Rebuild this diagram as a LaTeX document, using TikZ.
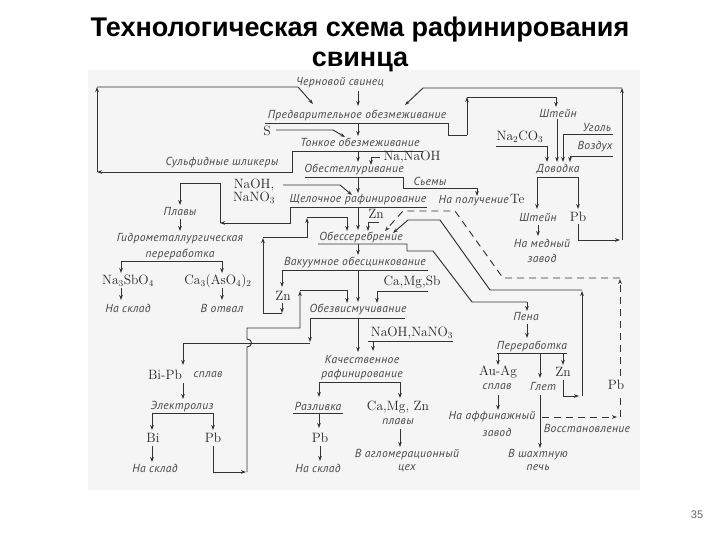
\documentclass[tikz,border=0pt]{standalone}
\usepackage{fontspec}
\usetikzlibrary{arrows.meta}
\newfontfamily\titlefont{Liberation Sans}
\newfontfamily\labfont[LetterSpace=3]{PT Sans}
\begin{document}
\begin{tikzpicture}[x=1pt,y=-1pt,
  ln/.style={draw=black!80, line width=0.95pt},
  dsh/.style={ln, dash pattern=on 7pt off 5pt},
  arr/.style={-{Stealth[length=5pt,width=3.6pt]}},
  lab/.style={font=\labfont\itshape\fontsize{11.6}{12}\selectfont, text=black!72, inner sep=0pt},
  chem/.style={font=\fontsize{13.5}{15}\selectfont, text=black!85, inner sep=0pt},
  ttl/.style={font=\titlefont\bfseries\fontsize{27}{30}\selectfont, inner sep=0pt}]
\useasboundingbox (0,0) rectangle (720,540);
\fill[black!4] (88,70) rectangle (640,490);
% title
\node[ttl] (t1) at (360,30) {Технологическая схема рафинирования};
\node[ttl] (t2) at (360,62) {свинца};
\node[font=\titlefont\fontsize{11}{12}\selectfont, text=black!60] (pg) at (697,515) {35};
% labels
\node[lab] (chern) at (340,83) {Черновой свинец};
\node[lab] (pred) at (357,115) {Предварительное обезмеживание};
\node[lab] (tonk) at (360,142) {Тонкое обезмеживание};
\node[lab] (sulf) at (222,163) {Сульфидные шликеры};
\node[chem] (S) at (267,131) {S};
\node[chem] (nanaoh) at (412,157) {Na,NaOH};
\node[lab] (obtel) at (354,169) {Обестеллуривание};
\node[lab] (siemy) at (430,181) {Сьемы};
\node[chem] (naoh1) at (254,185) {NaOH,};
\node[chem] (nano1) at (254,198) {NaNO$_3$};
\node[lab] (shel) at (358,200) {Щелочное рафинирование};
\node[lab, anchor=base east] (napol) at (509,204) {На получение};
\node[chem, anchor=base west] (te) at (510,204) {Te};
\node[chem] (zn1) at (376,214) {Zn};
\node[lab] (plavy1) at (180,212) {Плавы};
\node[lab] (gidro) at (180,239) {Гидрометаллургическая};
\node[lab] (perer1) at (180,254) {переработка};
\node[chem] (nasbo) at (128,281) {Na$_3$SbO$_4$};
\node[chem] (caaso) at (218,281) {Ca$_3$(AsO$_4$)$_2$};
\node[lab] (sklad1) at (128,308) {На склад};
\node[lab] (otval) at (222,308) {В отвал};
\node[lab] (obser) at (361,237) {Обессеребрение};
\node[lab] (vakuum) at (355,262) {Вакуумное обесцинкование};
\node[chem] (zn2) at (283,296) {Zn};
\node[chem] (camgsb) at (412,282) {Ca,Mg,Sb};
\node[lab] (obviz) at (358,309) {Обезвисмучивание};
\node[chem] (naohnano) at (412,333) {NaOH,NaNO$_3$};
\node[lab] (kach1) at (362,360) {Качественное};
\node[lab] (kach2) at (362,375) {рафинирование};
\node[chem] (bipb) at (165,375) {Bi-Pb};
\node[lab] (splav1) at (208,375) {сплав};
\node[lab] (elektr) at (182,407) {Электролиз};
\node[chem] (bi) at (153,438) {Bi};
\node[chem] (pb1) at (213,438) {Pb};
\node[lab] (sklad2) at (155,468) {На склад};
\node[lab] (razl) at (318,406) {Разливка};
\node[chem] (camgzn) at (398,407) {Ca,Mg, Zn};
\node[lab] (plavy2) at (398,422) {плавы};
\node[chem] (pb2) at (320,438) {Pb};
\node[lab] (sklad3) at (318,468) {На склад};
\node[lab] (aglo1) at (407,455) {В агломерационный};
\node[lab] (aglo2) at (407,468) {цех};
\node[lab] (shtein1) at (558,113) {Штейн};
\node[chem] (na2co3) at (520,137) {Na$_2$CO$_3$};
\node[lab] (ugol) at (597,128) {Уголь};
\node[lab] (vozd) at (595,147) {Воздух};
\node[lab] (dovod) at (558,169) {Доводка};
\node[lab] (shtein2) at (538,217) {Штейн};
\node[chem] (pb3) at (578,217) {Pb};
\node[lab] (medn1) at (542,243) {На медный};
\node[lab] (medn2) at (542,258) {завод};
\node[lab] (pena) at (526,317) {Пена};
\node[lab] (perer2) at (532,346) {Переработка};
\node[chem] (auag) at (498,372) {Au-Ag};
\node[lab] (splav2) at (497,387) {сплав};
\node[lab] (glet) at (543,387) {Глет};
\node[chem] (zn3) at (563,372) {Zn};
\node[chem] (pb4) at (616,385) {Pb};
\node[lab] (affin1) at (492,417) {На аффинажный};
\node[lab] (affin2) at (497,432) {завод};
\node[lab] (vosst) at (587,428) {Восстановление};
\node[lab] (shakht1) at (538,455) {В шахтную};
\node[lab] (shakht2) at (538,468) {печь};
% main column
\draw[ln,arr] (358,91) -- (358,106);
\draw[ln] (265,123) -- (448,123);
\draw[ln,arr] (358,123) -- (358,136);
\draw[ln] (292,151) -- (423,151);
\draw[ln,arr] (358,151) -- (358,162);
\draw[ln] (305,177) -- (403,177) -- (403,188) -- (477,188);
\draw[ln,arr] (477,188) -- (477,196);
\draw[ln,arr] (358,177) -- (358,193);
\draw[ln] (290,207) -- (427,207);
\draw[ln,arr] (358,207) -- (358,230);
\draw[ln] (318,244) -- (407,244) -- (407,251) -- (433,251) -- (472,302) -- (527,302);
\draw[ln,arr] (527,302) -- (527,311);
\draw[ln,arr] (358,244) -- (358,255);
\draw[ln] (282,270) -- (428,270);
\draw[ln,arr] (282,270) -- (282,287);
\draw[ln,arr] (358,270) -- (358,302);
\draw[ln] (310,318) -- (405,318);
\draw[ln,arr] (358,318) -- (358,352);
\draw[ln] (319,382) -- (400,382);
\draw[ln,arr] (319,382) -- (319,397);
\draw[ln,arr] (400,382) -- (400,398);
\draw[ln] (293,413) -- (343,413);
\draw[ln,arr] (319,413) -- (319,428);
\draw[ln,arr] (320,446) -- (320,461);
\draw[ln,arr] (400,429) -- (400,447);
% top-left loop (sulphide dross)
\draw[ln,arr] (292,151) -- (292,172) -- (97,172);
\draw[ln,arr] (97,172) -- (97,87);
\draw[ln,arr] (97,87) -- (298,87) -- (313,104);
% S
\draw[ln,arr] (276,130) -- (333,130) -- (345,137);
% NaOH NaNO3
\draw[ln,arr] (283,185) -- (340,185) -- (352,195);
% Na,NaOH
\draw[ln,arr] (380,157) -- (371,157) -- (371,165);
% to Плавы
\draw[ln,arr] (290,207) -- (290,223) -- (220,223);
\draw[ln,arr] (220,223) -- (220,183) -- (180,183) -- (180,205);
\draw[ln,arr] (180,219) -- (180,231);
\draw[ln] (121,261) -- (222,261);
\draw[ln,arr] (121,261) -- (121,273);
\draw[ln,arr] (222,261) -- (222,273);
\draw[ln,arr] (121,288) -- (121,300);
\draw[ln,arr] (222,288) -- (222,300);
% Zn from alkaline refining
\draw[ln,arr] (379,222) -- (368,222) -- (368,231);
% Zn loop from vacuum dezincing
\draw[ln,arr] (282,303) -- (282,313);
\draw[ln,arr] (282,313) -- (263,313) -- (263,238);
\draw[ln,arr] (263,237) -- (307,237) -- (307,218);
\draw[ln,arr] (307,217) -- (347,217) -- (347,231);
% Ca Mg Sb
\draw[ln] (377,291) -- (428,291);
\draw[ln,arr] (377,291) -- (377,303);
% NaOH NaNO3 lower
\draw[ln] (368,341) -- (453,341);
\draw[ln,arr] (373,341) -- (373,351);
% Bi-Pb
\draw[ln,arr] (310,318) -- (310,342);
\draw[ln,arr] (310,343) -- (183,343) -- (183,365);
\draw[ln,arr] (183,383) -- (183,399);
\draw[ln] (152,413) -- (213,413);
\draw[ln,arr] (152,413) -- (152,430);
\draw[ln,arr] (213,413) -- (213,430);
\draw[ln,arr] (152,446) -- (152,462);
\draw[ln,arr] (213,446) -- (213,472) -- (246,472);
\draw[ln,arr] (247,472) -- (247,347) .. controls (253,347) and (253,339) .. (247,339) -- (247,328) -- (300,328) -- (300,291);
\draw[ln,arr] (300,290) -- (347,290) -- (347,303);
% right: matte
\draw[ln] (448,123) -- (448,135) -- (467,135);
\draw[ln,arr] (467,135) -- (467,97);
\draw[ln,arr] (467,97) -- (556,97) -- (556,107);
\draw[ln,arr] (557,119) -- (557,162);
\draw[ln,arr] (496,146) -- (547,146) -- (547,162);
\draw[ln,arr] (613,134) -- (563,134) -- (563,162);
\draw[ln,arr] (613,156) -- (570,156) -- (570,162);
\draw[ln] (537,177) -- (578,177);
\draw[ln,arr] (537,177) -- (537,209);
\draw[ln,arr] (578,177) -- (578,209);
\draw[ln,arr] (538,225) -- (538,236);
\draw[ln,arr] (578,224) -- (578,240) -- (620,240);
\draw[ln,arr] (622,240) -- (622,88);
\draw[ln,arr] (622,88) -- (423,88) -- (405,105);
% foam processing
\draw[ln,arr] (527,324) -- (527,338);
\draw[ln] (497,353) -- (567,353);
\draw[ln,arr] (498,353) -- (498,365);
\draw[ln,arr] (540,353) -- (540,378);
\draw[ln,arr] (563,353) -- (563,365);
\draw[ln,arr] (498,395) -- (498,410);
\draw[ln,arr] (540,395) -- (540,448);
\draw[ln,arr] (563,380) -- (563,396) -- (579,396);
\draw[ln,arr] (582,396) -- (582,291);
\draw[ln,arr] (582,290) -- (490,290) -- (440,220) -- (408,220) -- (393,233);
% dashed Pb return
\draw[dsh,arr] (542,417) -- (617,417);
\draw[dsh] (620,417) -- (620,395);
\draw[dsh,arr] (620,376) -- (620,279);
\draw[dsh,arr] (620,278) -- (503,278) -- (455,211) -- (403,211) -- (385,231);
\end{tikzpicture}
\end{document}
